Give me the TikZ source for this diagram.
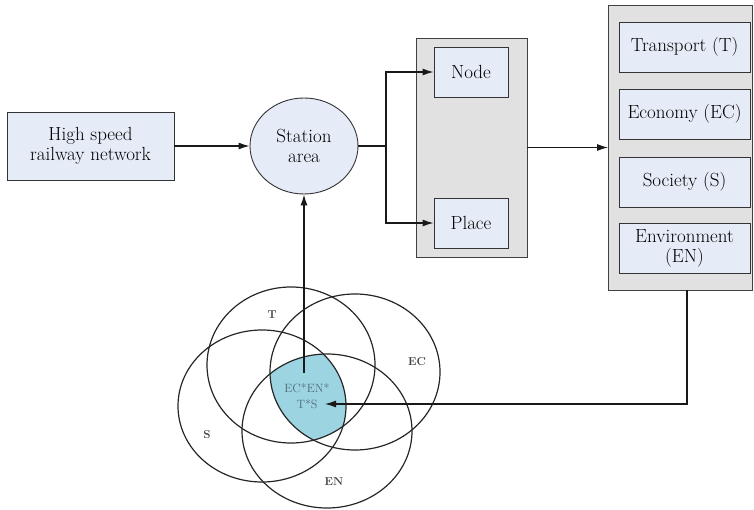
\documentclass[tikz,border=0pt]{standalone}
\usetikzlibrary{shapes.geometric,arrows.meta}
\definecolor{boxblue}{HTML}{E6ECF7}
\definecolor{boxgray}{HTML}{E1E1E1}
\definecolor{venncyan}{HTML}{9DD4E2}
\definecolor{venntext}{HTML}{4F6B78}
\begin{document}
\begin{tikzpicture}[x=1pt,y=-1pt,
  every node/.style={font=\fontsize{19}{20}\selectfont, align=center, inner sep=0pt},
  bluebox/.style={draw=black!80, fill=boxblue, line width=0.9pt},
  graybox/.style={draw=black!75, fill=boxgray, line width=0.9pt},
  arr/.style={-{Latex[length=11pt,width=7pt]}, line width=1.1pt, draw=black!90},
  conn/.style={line width=1.1pt, draw=black!90},
  venn/.style={line width=1.2pt, draw=black!85},
  vlabel/.style={font=\fontsize{11.5}{12}\selectfont\bfseries, text=black!75}]
\useasboundingbox (0,0) rectangle (754,510);
% nodes
\node[bluebox, minimum width=167pt, minimum height=68pt] (hs) at (90.5,146) {High speed\\railway network};
\node[bluebox, ellipse, minimum width=108pt, minimum height=96pt] (st) at (304,146) {Station\\area};
\node[graybox, minimum width=111pt, minimum height=219pt] (g1) at (471.5,147.5) {};
\node[bluebox, minimum width=74pt, minimum height=50pt] (nd) at (471,72) {Node};
\node[bluebox, minimum width=74pt, minimum height=50pt] (pl) at (471,223) {Place};
\node[graybox, minimum width=144pt, minimum height=285pt] (g2) at (680.5,147.5) {};
\node[bluebox, minimum width=131pt, minimum height=50pt] (tr) at (684.5,47) {Transport (T)};
\node[bluebox, minimum width=131pt, minimum height=50pt] (ec) at (684.5,114) {Economy (EC)};
\node[bluebox, minimum width=131pt, minimum height=50pt] (so) at (684.5,182) {Society (S)};
\node[bluebox, minimum width=131pt, minimum height=50pt] (en) at (684.5,248) {Environment\\(EN)};
% Venn diagram
\begin{scope}
  \clip (291,365) ellipse [x radius=84, y radius=78];
  \clip (355,372) ellipse [x radius=85, y radius=78];
  \clip (262,406) ellipse [x radius=84, y radius=76];
  \clip (327,431) ellipse [x radius=85, y radius=77];
  \fill[venncyan] (150,250) rectangle (460,510);
\end{scope}
\draw[venn] (291,365) ellipse [x radius=84, y radius=78];
\draw[venn] (355,372) ellipse [x radius=85, y radius=78];
\draw[venn] (262,406) ellipse [x radius=84, y radius=76];
\draw[venn] (327,431) ellipse [x radius=85, y radius=77];
\node[vlabel] (lt) at (272,315) {T};
\node[vlabel] (lec) at (417,362) {EC};
\node[vlabel] (ls) at (207,435) {S};
\node[vlabel] (len) at (334,482) {EN};
\node[font=\fontsize{12}{16}\selectfont, text=venntext] (core) at (307,396) {EC*EN*\\T*S};
% connectors
\coordinate (j) at (386,146);
\coordinate (v) at (304,373);
\coordinate (c) at (325,404);
\draw[arr] (hs) -- (st);
\draw[conn] (st.east) -- (j);
\draw[arr] (j) |- (nd.west);
\draw[arr] (j) |- (pl.west);
\draw[arr] (g1) -- (g2);
\draw[arr] ([xshift=6.5pt]g2.south) |- (c);
\draw[arr] (v) -- (st.south);
\end{tikzpicture}
\end{document}
